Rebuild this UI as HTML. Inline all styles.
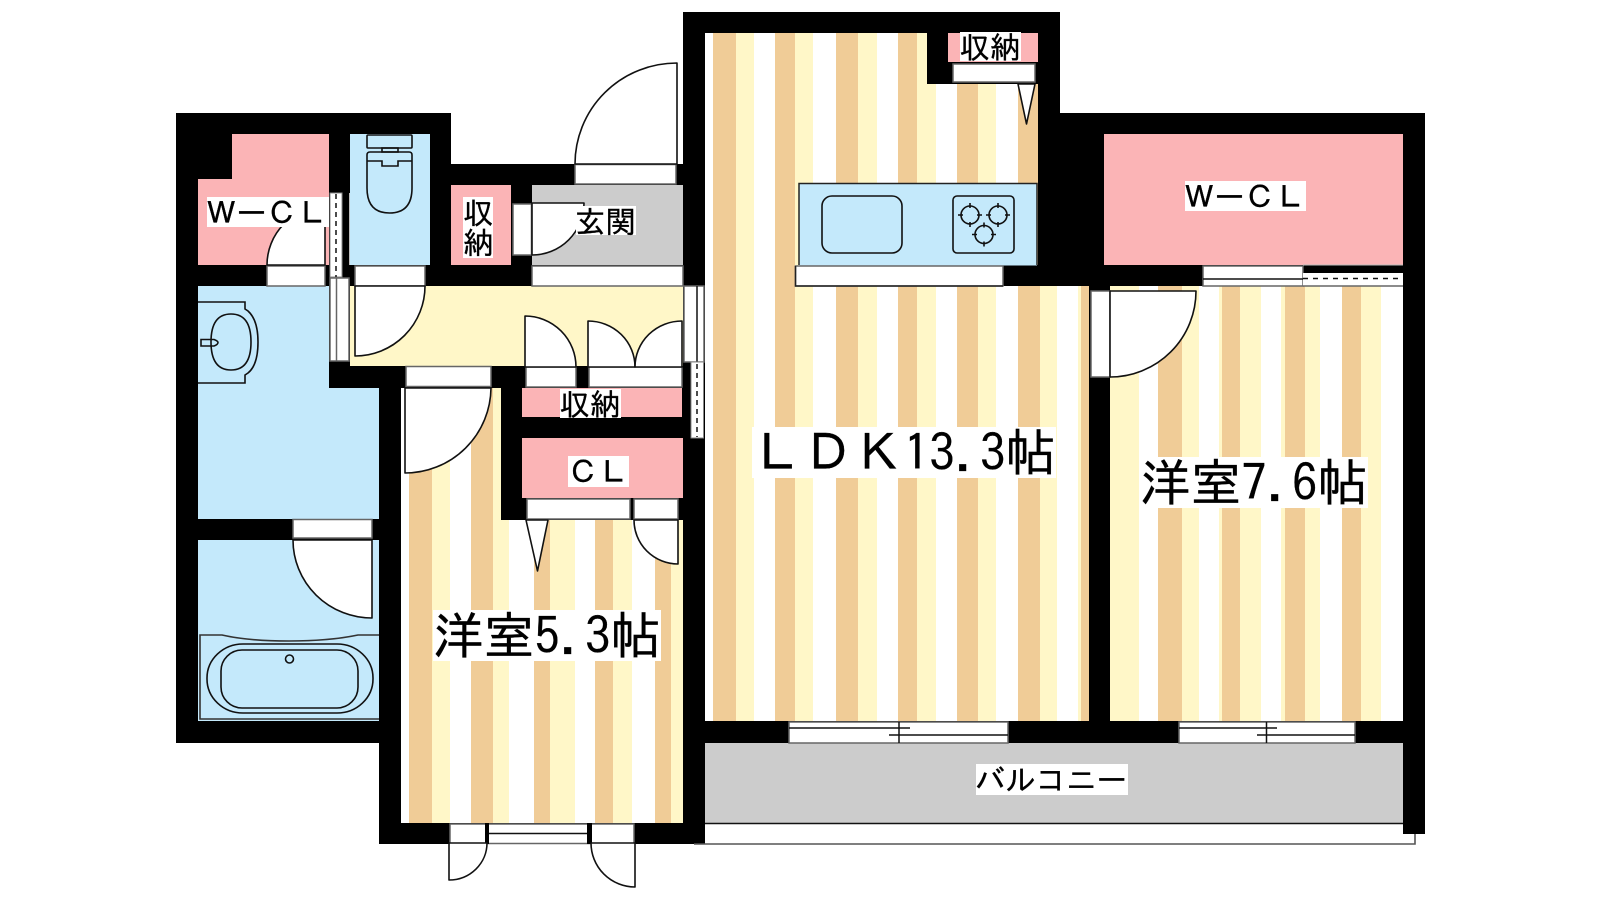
<!DOCTYPE html>
<html lang="ja"><head><meta charset="utf-8"><title>間取り図</title>
<style>
html,body{margin:0;padding:0;background:#fff;width:1600px;height:900px;overflow:hidden}
svg{display:block}
text{font-family:"IPAGothic","Noto Sans CJK JP",monospace;fill:#000;stroke:#000;stroke-width:.3px}
.t30{font-size:30.4px}
.t50{font-size:50.67px}
.f{fill:#fff;stroke:#666;stroke-width:1.5}
.d{fill:#fff;stroke:#111;stroke-width:1.6;stroke-linejoin:round}
.l{fill:none;stroke:#111;stroke-width:1.5}
.k{fill:none;stroke:#111;stroke-width:1.6}
</style></head><body>
<svg xmlns="http://www.w3.org/2000/svg" width="1600" height="900" viewBox="0 0 1600 900">
<defs>
<clipPath id="c53"><path d="M401 388H501V520H683V823H401Z"/></clipPath>
<clipPath id="cL"><path d="M705 33H927V84H1038V265H1003V286H1089V721H705Z"/></clipPath>
<clipPath id="c76"><rect x="1110" y="286" width="293" height="435"/></clipPath>
</defs>
<rect width="1600" height="900" fill="#fff"/>
<!-- footprint -->
<path d="M176 113H451V164H683V12H1060V113H1425V834H1403V823H705V844H379V743H176Z" fill="#000"/>
<!-- room fills -->
<path d="M232 134H329V265H198V179H232Z" fill="#FBB4B6"/>
<rect x="350" y="134" width="80" height="131" fill="#C4E9FB"/>
<rect x="451" y="185" width="60" height="80" fill="#FBB4B6"/>
<rect x="532" y="185" width="151" height="80" fill="#CCCCCC"/>
<rect x="350" y="286" width="333" height="80" fill="#FFF7C8"/>
<path d="M198 286H329V388H379V519H198Z" fill="#C4E9FB"/>
<rect x="198" y="540" width="181" height="181" fill="#C4E9FB"/>
<rect x="522" y="388" width="160" height="29" fill="#FBB4B6"/>
<rect x="522" y="438" width="161" height="60" fill="#FBB4B6"/>
<rect x="948" y="33" width="90" height="29" fill="#FBB4B6"/>
<rect x="1104" y="134" width="299" height="131" fill="#FBB4B6"/>
<rect x="705" y="743" width="698" height="80" fill="#CCCCCC"/>
<!-- room 5.3 floor -->
<g clip-path="url(#c53)">
<rect x="401" y="388" width="282" height="435" fill="#fff"/>
<g fill="#F0CC97">
<rect x="409" y="388" width="23" height="435"/><rect x="471" y="388" width="22" height="435"/><rect x="534" y="388" width="16" height="435"/><rect x="595" y="388" width="18" height="435"/><rect x="655" y="388" width="16" height="435"/>
</g>
<g fill="#FFF7C8">
<rect x="432" y="388" width="18" height="435"/><rect x="493" y="388" width="16" height="435"/><rect x="550" y="388" width="25" height="435"/><rect x="613" y="388" width="19" height="435"/><rect x="671" y="388" width="12" height="435"/>
</g>
</g>
<!-- LDK floor -->
<g clip-path="url(#cL)">
<rect x="705" y="33" width="384" height="688" fill="#fff"/>
<g fill="#F0CC97">
<rect x="713" y="33" width="23" height="688"/><rect x="775" y="33" width="20" height="688"/><rect x="836" y="33" width="22" height="688"/><rect x="898" y="33" width="19" height="688"/><rect x="957" y="33" width="21" height="688"/><rect x="1018" y="33" width="22" height="688"/><rect x="1081" y="33" width="8" height="688"/>
</g>
<g fill="#FFF7C8">
<rect x="736" y="33" width="18" height="688"/><rect x="795" y="33" width="18" height="688"/><rect x="858" y="33" width="19" height="688"/><rect x="917" y="33" width="19" height="688"/><rect x="978" y="33" width="18" height="688"/><rect x="1040" y="33" width="17" height="688"/><rect x="1078" y="33" width="3" height="688"/>
</g>
</g>
<!-- room 7.6 floor -->
<g clip-path="url(#c76)">
<rect x="1110" y="286" width="293" height="435" fill="#fff"/>
<g fill="#F0CC97">
<rect x="1158" y="286" width="24" height="435"/><rect x="1222" y="286" width="18" height="435"/><rect x="1285" y="286" width="20" height="435"/><rect x="1342" y="286" width="19" height="435"/>
</g>
<g fill="#FFF7C8">
<rect x="1110" y="286" width="29" height="435"/><rect x="1182" y="286" width="17" height="435"/><rect x="1219" y="286" width="3" height="435"/><rect x="1240" y="286" width="21" height="435"/><rect x="1281" y="286" width="4" height="435"/><rect x="1305" y="286" width="15" height="435"/><rect x="1361" y="286" width="20" height="435"/>
</g>
</g>
<!-- kitchen -->
<rect x="799" y="183.500" width="238" height="82" fill="#C4E9FB"/>
<path d="M799 265V183.500H1037V265" fill="none" stroke="#222" stroke-width="1.5"/>
<rect x="822" y="196" width="80" height="57" rx="10" class="k"/>
<rect x="953" y="196" width="61" height="57" rx="4" class="k"/>
<g class="k">
<circle cx="970" cy="215" r="9"/><path d="M970 203V208M970 222V227M958 215H963M977 215H982"/>
<circle cx="998" cy="215" r="9"/><path d="M998 203V208M998 222V227M986 215H991M1005 215H1010"/>
<circle cx="984" cy="234.500" r="9"/><path d="M984 222.500V227.500M984 241.500V246.500M972 234.500H977M991 234.500H996"/>
</g>
<!-- frames -->
<rect class="f" x="795.500" y="266" width="207.500" height="20"/>
<path d="M795.500 266V286H1003" fill="none" stroke="#222" stroke-width="1.5"/>
<rect class="f" x="532" y="266" width="151" height="20"/>
<rect class="f" x="575" y="164.500" width="101" height="19.500"/>
<rect class="f" x="513" y="204" width="18.500" height="51"/>
<rect class="f" x="267" y="266" width="58" height="20"/>
<rect class="f" x="355" y="266" width="70" height="20"/>
<rect class="f" x="406" y="366.500" width="85" height="20"/>
<rect class="f" x="526" y="367" width="50" height="20"/>
<rect class="f" x="589" y="367" width="93" height="20"/>
<rect class="f" x="527" y="499" width="103" height="20"/>
<rect class="f" x="634" y="499" width="44" height="20"/>
<rect class="f" x="953" y="64" width="82" height="18"/>
<rect class="f" x="293" y="519.500" width="79" height="18.500"/>
<rect class="f" x="1091" y="291" width="19" height="86"/>
<!-- sliding partitions left -->
<rect x="330" y="193" width="12" height="84" fill="#fff" stroke="#888" stroke-width="1"/>
<path d="M336 194V277" stroke="#111" stroke-width="1.5" stroke-dasharray="5 4" fill="none"/>
<path d="M349.500 193V265" stroke="#bbb" stroke-width="1" fill="none"/>
<rect x="330" y="278" width="19" height="83" class="f"/>
<path d="M336.500 278V361" fill="none" stroke="#666" stroke-width="1.5"/>
<!-- sliding partitions LDK/corridor -->
<rect x="684" y="286" width="20" height="76" class="f"/>
<path d="M697 286V362" class="l"/>
<rect x="691" y="362" width="12.500" height="76" fill="#fff" stroke="#888" stroke-width="1"/>
<path d="M697 364V437" stroke="#111" stroke-width="1.5" stroke-dasharray="5 4" fill="none"/>
<!-- top window right -->
<rect x="1203" y="266" width="100" height="20" class="f"/>
<path d="M1203 279H1303" class="l"/>
<path d="M1303 265H1403" stroke="#bbb" stroke-width="1" fill="none"/>
<rect x="1303" y="273" width="100" height="13" fill="#fff"/>
<path d="M1303 286H1403" stroke="#666" stroke-width="1.5" fill="none"/>
<path d="M1303 278.500H1403" stroke="#111" stroke-width="1.5" stroke-dasharray="5 5" fill="none"/>
<!-- south windows -->
<g>
<rect x="789" y="722" width="219" height="21" class="f"/>
<path d="M789 728H910M889 735H1008M899 722V743" class="l"/>
<rect x="1179" y="722" width="176" height="21" class="f"/>
<path d="M1179 728H1277M1257 735H1355M1266.500 722V743" class="l"/>
</g>
<!-- bedroom 5.3 window -->
<rect x="450" y="824" width="184" height="19.500" class="f"/>
<rect x="485" y="823" width="4" height="21" fill="#000"/>
<rect x="587" y="823" width="5" height="21" fill="#000"/>
<path d="M489 833.500H587" class="l"/>
<!-- balcony rail -->
<rect x="705" y="825" width="698" height="18" fill="#fff"/>
<path d="M705 823.500H1403" stroke="#111" stroke-width="1.6" fill="none"/>
<path d="M694 844H1415V834" stroke="#555" stroke-width="1.6" fill="none"/>
<!-- door leaves -->
<path class="d" d="M677 164V63A102 101 0 0 0 575 164Z"/>
<path class="d" d="M532 203H584A52 52 0 0 1 532 255Z"/>
<path class="d" d="M325 265V207A58 58 0 0 0 267 265Z"/>
<path class="d" d="M355 286H425A70 70 0 0 1 355 356Z"/>
<path class="d" d="M405 388H491A86 86 0 0 1 405 473Z"/>
<path class="d" d="M525 367V316A51 51 0 0 1 576 367Z"/>
<path class="d" d="M588 367V321A47 46 0 0 1 635 367Z"/>
<path class="d" d="M682 367V321A47 46 0 0 0 635 367Z"/>
<path class="d" d="M678 520V564A44 44 0 0 1 634 520Z"/>
<path class="d" d="M372 540H293A79 78 0 0 0 372 618Z"/>
<path class="d" d="M1110 291H1196A86 86 0 0 1 1110 377Z"/>
<path class="d" d="M449 843V880A38 37 0 0 0 487 843Z"/>
<path class="d" d="M635 843V887A44 44 0 0 1 591 843Z"/>
<!-- folding triangles -->
<path class="d" d="M1018 84H1035L1026.500 124Z"/>
<path class="d" d="M526 520H548L537.500 571Z"/>
<!-- toilet -->
<g class="k">
<rect x="367" y="135" width="45" height="13" rx="1"/>
<rect x="382" y="148" width="16" height="4"/>
<path d="M367 188V155Q367 152 370 152H409Q412 152 412 155V188Q412 213 389.500 213Q367 213 367 188Z"/>
<path d="M367 161H382V166H398V161H412"/>
</g>
<!-- sink -->
<g class="k">
<path d="M198 302H245V309L248 311Q258 320 258 342Q258 365 248 373L245 375V383H198"/>
<path d="M211 342Q211 314 231 314Q251 314 251 342Q251 370 231 370Q211 370 211 342Z"/>
<path d="M201 339.500H214Q218 341 218 342.500Q218 344.500 214 346H201Z"/>
</g>
<!-- bath -->
<g class="k">
<path d="M379 635H358Q330 641 289 641Q248 641 222 635H200V719H379" stroke="#333"/>
<rect x="207" y="644" width="166" height="69" rx="36" ry="34"/>
<rect x="221" y="650" width="137" height="58" rx="21" ry="21"/>
<circle cx="289.500" cy="659" r="4"/>
</g>
<!-- labels -->
<rect x="207" y="197" width="122" height="30" fill="#fff"/>
<text class="t30" x="206" y="224">ＷーＣＬ</text>
<rect x="1185" y="181" width="121" height="30" fill="#fff"/>
<text class="t30" x="1184" y="208">ＷーＣＬ</text>
<rect x="463" y="197" width="30" height="61" fill="#fff"/>
<text class="t30" x="463" y="224">収</text>
<text class="t30" x="463" y="254">納</text>
<rect x="576" y="206" width="60" height="29" fill="#fff"/>
<text class="t30" x="575" y="233">玄関</text>
<rect x="960" y="32" width="61" height="29" fill="#fff"/>
<text class="t30" x="959.500" y="58.500">収納</text>
<rect x="560" y="389" width="61" height="29" fill="#fff"/>
<text class="t30" x="559.500" y="415.500">収納</text>
<rect x="568" y="456" width="61" height="31" fill="#fff"/>
<text class="t30" x="568" y="483">ＣＬ</text>
<rect x="976" y="764" width="152" height="31" fill="#fff"/>
<text class="t30" x="975" y="791">バルコニー</text>
<rect x="752" y="427" width="304" height="51" fill="#fff"/>
<text class="t50" x="752" y="471">ＬＤＫ13.3帖</text>
<rect x="1139" y="457" width="229" height="51" fill="#fff"/>
<text class="t50" x="1140" y="501">洋室7.6帖</text>
<rect x="433" y="610" width="228" height="51" fill="#fff"/>
<text class="t50" x="433" y="654">洋室5.3帖</text>
</svg>
</body></html>
